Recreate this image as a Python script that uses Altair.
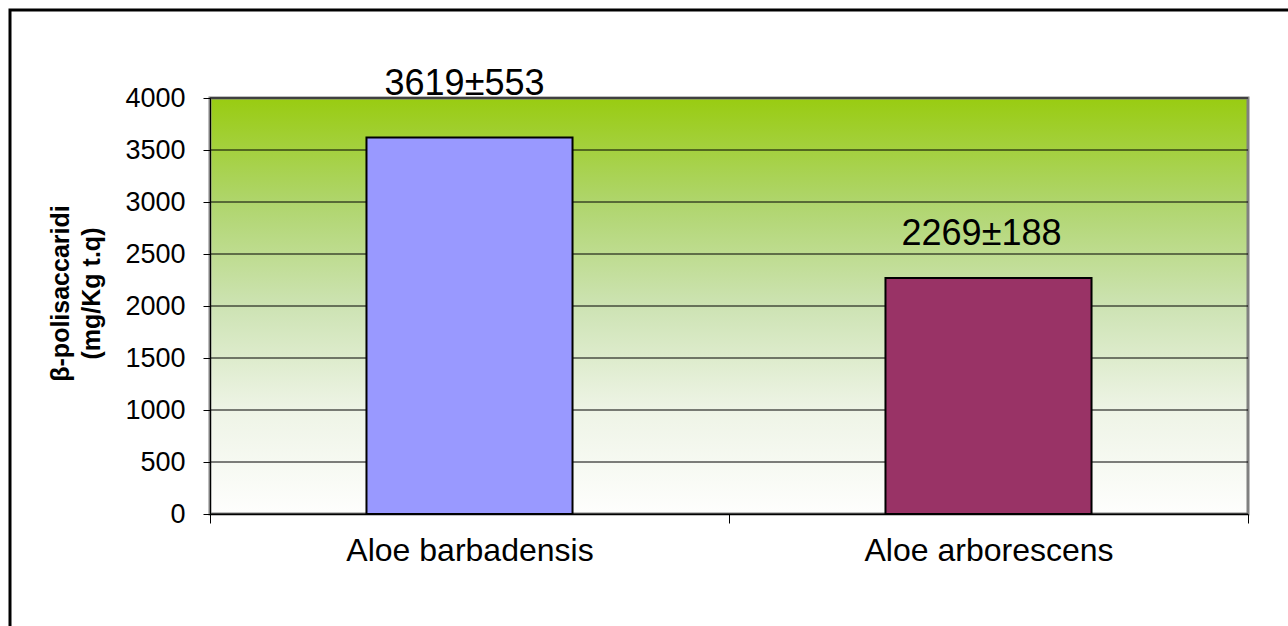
import altair as alt
import pandas as pd

categories = ["Aloe barbadensis", "Aloe arborescens"]
means = [3619, 2269]
sds = [553, 188]
bar_colors = ["#9999FF", "#993366"]
y_ticks = [0, 500, 1000, 1500, 2000, 2500, 3000, 3500, 4000]
y_title = ["β-polisaccaridi", "(mg/Kg t.q)"]

df = pd.DataFrame({
    "cat": categories,
    "val": means,
    "sd": sds,
    "label": [f"{m}±{s}" for m, s in zip(means, sds)],
})
grid_df = pd.DataFrame({"val": y_ticks})

FONT = "Liberation Sans"

x_axis = alt.Axis(
    title=None, tickBand="extent", labelAngle=0, labelFontSize=32,
    labelFont=FONT, labelColor="black", tickColor="black", tickSize=9,
    domainColor="black", labelPadding=12, grid=False, zindex=1,
    labelLimit=0,
)
y_axis = alt.Axis(
    values=y_ticks, format="d", title=y_title, grid=False,
    tickColor="black", tickSize=7,
    domainColor="black", labelFont=FONT, labelFontSize=27,
    labelColor="black", labelPadding=18, titleFont=FONT,
    titleFontSize=25, titleFontWeight="bold", titleColor="black",
    titleLineHeight=31, titlePadding=20, titleY=195, zindex=1,
)
x_scale = alt.Scale(paddingInner=0, paddingOuter=0)
y_scale = alt.Scale(domain=[0, 4000])

x_enc = alt.X("cat:N", sort=categories, scale=x_scale, axis=x_axis)
y_enc = alt.Y("val:Q", scale=y_scale, axis=y_axis)

gradient = alt.Gradient(
    gradient="linear", x1=0, x2=0, y1=0, y2=1,
    stops=[
        alt.GradientStop(offset=0, color="#99CC11"),
        alt.GradientStop(offset=0.25, color="#AFD56C"),
        alt.GradientStop(offset=0.5, color="#CDE3B3"),
        alt.GradientStop(offset=0.75, color="#EEF4E6"),
        alt.GradientStop(offset=1, color="#FEFEFD"),
    ],
)

one = pd.DataFrame({"k": [0]})

bg = alt.Chart(one).mark_rect(
    fill=gradient, stroke="#808080", strokeWidth=3
).encode(
    x=alt.value(0), x2=alt.value("width"), y=alt.value(0), y2=alt.value("height")
)

grid = alt.Chart(grid_df).mark_rule(color="black", strokeWidth=1).encode(
    y=y_enc
)

base = alt.Chart(df)

bars = base.mark_bar(
    width=alt.RelativeBandSize(0.397), stroke="black", strokeWidth=2
).encode(
    x=x_enc,
    y=y_enc,
    color=alt.Color("cat:N", scale=alt.Scale(domain=categories, range=bar_colors), legend=None),
)

lab1 = base.transform_filter(alt.datum.cat == categories[0]).mark_text(
    font=FONT, fontSize=36, color="black", baseline="bottom", dy=-35, dx=-5
).encode(x=x_enc, y=y_enc, text="label:N")

lab2 = base.transform_filter(alt.datum.cat == categories[1]).mark_text(
    font=FONT, fontSize=36, color="black", baseline="bottom", dy=-25, dx=-7
).encode(x=x_enc, y=y_enc, text="label:N")

frame = alt.Chart(one).mark_rect(
    fill=None, stroke="black", strokeWidth=3
).encode(
    x=alt.value(-200), x2=alt.value(1100), y=alt.value(-88), y2=alt.value(540)
)

chart = alt.layer(bg, grid, bars, lab1, lab2, frame).properties(
    width=1038,
    height=416,
    autosize=alt.AutoSizeParams(type="none"),
    padding={"left": 210, "top": 98, "right": 40, "bottom": 112},
    background="white",
).configure_view(stroke=None)

chart.save("out.html", embed_options={"renderer": "svg", "actions": False})
